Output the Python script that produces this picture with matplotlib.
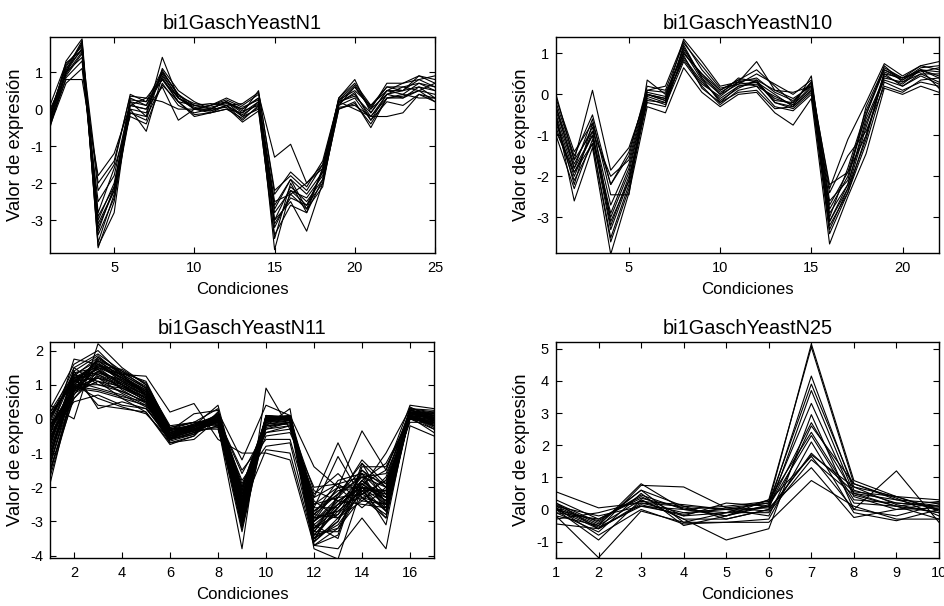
import matplotlib
matplotlib.use("Agg")
import matplotlib.pyplot as plt
import numpy as np

plt.rcParams['font.family'] = ['Liberation Sans', 'DejaVu Sans']
plt.rcParams['axes.unicode_minus'] = False

# ---------------- data ----------------
titles = ["bi1GaschYeastN1", "bi1GaschYeastN10", "bi1GaschYeastN11", "bi1GaschYeastN25"]
xlabel = "Condiciones"
ylabel = "Valor de expresión"

n1_profiles = [
    [-0.5, 1.0, 1.8, -3.7, -2.8, 0.3, 0.1, 1.0, 0.4, 0.1, 0.0, 0.2, 0.0, 0.3, -3.8, -2.2, -2.6, -1.7, 0.2, 0.4, -0.2, 0.4, 0.5, 0.6, 0.5],
    [-0.3, 1.3, 1.9, -3.2, -2.2, 0.2, -0.2, 1.4, 0.3, 0.0, -0.1, 0.1, -0.2, 0.2, -2.6, -1.9, -2.7, -1.6, 0.3, 0.8, -0.1, 0.5, 0.7, 0.9, 0.8],
    [-0.4, 0.8, 0.8, -1.8, -1.2, 0.1, 0.3, 0.2, 0.0, 0.0, 0.1, 0.3, 0.1, 0.4, -1.3, -0.95, -2.0, -1.6, 0.1, 0.6, 0.0, 0.7, 0.7, 0.8, 0.9],
    [-0.1, 1.1, 1.6, -2.9, -2.1, 0.0, -0.6, 0.9, 0.3, 0.05, -0.05, 0.1, -0.3, 0.1, -3.0, -2.5, -3.3, -2.0, 0.0, 0.2, -0.5, 0.3, 0.3, 0.5, 0.4],
    [0.0, 0.9, 1.5, -2.2, -1.5, 0.4, 0.2, 0.8, 0.2, -0.2, -0.1, 0.0, -0.1, 0.5, -2.3, -1.7, -2.1, -1.4, 0.25, 0.5, 0.1, 0.5, 0.4, 0.7, 0.6],
    [-0.2, 1.2, 1.7, -3.4, -2.4, -0.1, -0.3, 1.1, 0.5, 0.2, 0.0, 0.2, -0.2, 0.0, -3.5, -2.0, -2.8, -1.9, 0.1, 0.3, -0.3, 0.2, 0.1, 0.4, 0.3],
    [-0.3, 1.0, 1.4, -3.0, -2.0, 0.1, 0.0, 0.6, -0.3, 0.0, 0.1, 0.2, -0.1, 0.2, -2.8, -2.2, -2.4, -1.8, 0.2, 0.0, -0.2, -0.2, -0.1, 0.4, 0.2],
    [-0.45, 0.7, 1.1, -2.5, -1.8, 0.2, 0.1, 0.8, 0.3, 0.1, 0.05, 0.15, 0.0, 0.3, -2.5, -2.3, -2.0, -1.5, 0.2, 0.6, 0.0, 0.4, 0.6, 0.5, 0.7],
    [-0.2, 1.0, 1.65, -3.6, -2.3, 0.0, -0.1, 1.0, 0.4, 0.0, -0.05, 0.1, -0.15, 0.15, -3.2, -2.3, -2.7, -2.1, 0.15, 0.45, -0.3, 0.4, 0.3, 0.6, 0.3],
    [-0.1, 1.15, 1.75, -3.3, -2.1, 0.25, 0.2, 1.05, 0.35, 0.15, 0.1, 0.25, 0.05, 0.25, -2.7, -1.9, -2.3, -1.7, 0.3, 0.7, 0.1, 0.6, 0.6, 0.7, 0.5],
    [-0.35, 0.95, 1.55, -2.8, -1.6, -0.2, -0.4, 0.7, 0.1, -0.1, 0.0, 0.05, -0.35, -0.05, -3.4, -2.6, -2.8, -1.6, 0.05, 0.1, -0.2, 0.3, 0.4, 0.3, 0.3],
    [-0.25, 1.05, 1.85, -3.75, -2.5, 0.1, 0.0, 0.95, 0.3, 0.0, 0.0, 0.2, -0.05, 0.1, -3.0, -2.1, -2.5, -1.9, 0.2, 0.35, -0.1, 0.5, 0.5, 0.8, 0.6],
    [0.1, 1.25, 1.6, -2.0, -1.4, 0.35, 0.3, 0.85, 0.2, 0.1, 0.15, 0.1, 0.15, 0.45, -2.2, -1.8, -2.2, -1.5, 0.25, 0.65, 0.05, 0.6, 0.5, 0.9, 0.7],
    [-0.4, 0.85, 1.3, -3.1, -2.2, -0.1, -0.2, 0.65, 0.2, -0.15, -0.1, 0.0, -0.25, 0.05, -3.1, -2.4, -2.6, -2.0, 0.0, 0.15, -0.4, 0.3, 0.35, 0.5, 0.2],
]

n10_profiles = [
    [0.0, -1.6, 0.1, -1.85, -1.3, 0.0, -0.1, 1.35, 0.8, 0.2, 0.3, 0.8, 0.1, 0.05, 0.2, -2.2, -1.9, -1.0, 0.5, 0.4, 0.7, 0.8],
    [-0.5, -2.6, -1.3, -3.9, -2.4, -0.3, -0.45, 0.65, 0.05, -0.3, 0.0, 0.05, -0.45, -0.75, -0.1, -3.65, -2.5, -1.45, 0.15, 0.0, 0.2, 0.05],
    [-0.3, -1.8, -0.6, -2.45, -2.45, 0.35, 0.0, 1.0, 0.5, 0.0, 0.4, 0.3, -0.2, -0.3, 0.45, -2.8, -2.0, -0.5, 0.7, 0.3, 0.6, 0.4],
    [-0.6, -1.9, -1.0, -3.3, -2.1, -0.05, -0.2, 1.2, 0.4, -0.2, 0.2, 0.3, 0.0, -0.3, 0.1, -3.1, -2.3, -0.8, 0.5, 0.2, 0.5, 0.3],
    [-0.8, -2.1, -1.2, -3.5, -2.2, -0.1, -0.25, 0.8, 0.2, -0.25, 0.1, 0.2, -0.3, -0.4, 0.0, -3.2, -2.4, -1.2, 0.3, 0.1, 0.3, 0.2],
    [-0.2, -1.5, -0.5, -2.2, -1.4, 0.1, 0.2, 1.3, 0.6, 0.1, 0.35, 0.6, 0.2, -0.2, 0.3, -2.3, -1.1, -0.2, 0.75, 0.45, 0.7, 0.6],
    [-1.0, -2.3, -1.1, -3.0, -1.9, 0.0, -0.15, 0.9, 0.3, -0.1, 0.2, 0.25, -0.1, -0.25, 0.15, -2.9, -2.2, -0.6, 0.4, 0.3, 0.5, 0.5],
    [-0.4, -1.7, -0.8, -2.7, -1.7, 0.05, -0.05, 1.1, 0.45, 0.05, 0.3, 0.4, 0.05, -0.15, 0.25, -3.0, -1.8, -0.4, 0.6, 0.35, 0.65, 0.7],
    [-0.7, -2.0, -0.9, -3.2, -2.0, -0.2, -0.3, 1.05, 0.35, -0.15, 0.15, 0.35, -0.2, -0.35, 0.05, -3.4, -2.4, -1.0, 0.45, 0.25, 0.6, 0.15],
    [-0.1, -1.4, -0.7, -2.2, -1.5, 0.2, 0.1, 1.25, 0.7, 0.15, 0.25, 0.5, 0.25, 0.0, 0.35, -2.6, -2.1, -0.3, 0.65, 0.4, 0.55, 0.65],
    [-0.5, -1.8, -1.0, -2.9, -1.8, 0.0, -0.1, 0.85, 0.25, -0.05, 0.3, 0.2, -0.05, -0.25, 0.2, -3.1, -2.2, -0.7, 0.35, 0.2, 0.45, 0.25],
    [-0.9, -1.9, -1.2, -3.6, -2.3, -0.15, -0.2, 0.95, 0.15, -0.2, 0.05, 0.1, -0.35, -0.3, 0.1, -2.4, -1.5, -0.9, 0.2, 0.05, 0.35, 0.4],
    [-0.6, -2.2, -0.7, -3.1, -2.1, 0.0, -0.15, 1.15, 0.4, 0.0, 0.25, 0.3, -0.15, -0.2, 0.3, -3.3, -2.3, -1.1, 0.55, 0.35, 0.6, 0.55],
    [-0.3, -1.6, -0.9, -2.0, -1.6, 0.1, 0.05, 1.0, 0.5, 0.1, 0.35, 0.35, 0.1, -0.1, 0.2, -2.7, -1.9, -0.5, 0.6, 0.4, 0.6, 0.45],
]

n11_profiles = [
    [-1.9, 1.0, 1.5, 1.2, 0.7, -0.5, -0.3, 0.0, -2.5, 0.0, 0.0, -3.0, -2.5, -2.0, -2.5, 0.2, 0.0],
    [0.4, 0.0, 2.2, 1.5, 1.0, -0.3, -0.2, 0.1, -3.2, -0.2, -0.1, -3.8, -4.1, -2.0, -2.7, 0.1, -0.2],
    [-0.5, 1.75, 1.6, 1.1, 0.6, -0.6, -0.4, -0.2, -3.8, 0.9, -0.3, -2.3, -0.7, -2.2, -1.8, 0.3, 0.2],
    [0.0, 1.2, 0.4, 0.3, 0.2, -0.7, -0.5, 0.2, -2.0, 0.0, 0.1, -1.4, -2.0, -0.35, -1.5, 0.4, 0.3],
    [-0.3, 0.8, 1.8, 1.3, 1.25, 0.2, 0.45, -0.6, -1.0, -1.0, -1.2, -3.7, -3.8, -2.9, -3.8, -0.2, -0.5],
    [-1.2, 1.5, 1.9, 1.4, 0.9, -0.4, -0.3, 0.0, -2.8, 0.1, 0.05, -3.3, -3.3, -2.0, -2.2, 0.0, 0.0],
    [-0.8, 1.1, 1.2, 1.0, 0.5, -0.6, -0.2, 0.4, -2.3, -0.3, -0.2, -2.8, -2.2, -1.3, -2.5, 0.25, 0.1],
    [-0.2, 0.9, 0.8, 0.6, 0.4, -0.5, -0.3, -0.1, -1.8, -0.8, -0.7, -3.5, -2.6, -1.8, -1.3, 0.0, -0.3],
    [0.2, 1.3, 1.7, 1.2, 0.8, -0.3, -0.1, 0.3, -2.6, 0.05, 0.05, -2.6, -1.1, -2.3, -2.9, 0.35, 0.0],
    [-1.5, 0.6, 1.4, 1.0, 0.6, -0.45, -0.35, -0.05, -3.1, 0.0, 0.0, -3.6, -3.0, -1.5, -2.0, 0.1, -0.1],
    [-0.6, 1.0, 1.0, 0.8, 0.5, -0.7, -0.6, 0.0, -2.2, -0.5, -0.4, -2.0, -1.9, -1.7, -1.6, 0.0, 0.2],
    [-0.1, 1.4, 0.3, 0.5, 0.3, -0.6, -0.4, 0.1, -2.4, 0.1, 0.0, -3.2, -2.4, -2.5, -2.6, 0.2, -0.2],
    [-1.0, 0.8, 1.55, 1.45, 1.0, -0.2, -0.1, -0.2, -2.9, -0.1, 0.05, -2.9, -2.8, -1.6, -2.3, 0.05, 0.1],
    [0.3, 1.6, 2.0, 1.3, 0.7, -0.55, -0.25, 0.0, -1.5, -0.6, -0.6, -3.0, -2.0, -2.0, -1.0, 0.3, -0.1],
    [-0.4, 0.5, 0.7, 0.4, 0.3, -0.5, -0.3, -0.3, -2.7, -0.2, 0.3, -3.7, -3.2, -1.9, -2.4, 0.15, 0.05],
    [-0.7, 1.2, 1.3, 0.9, 0.65, -0.35, -0.2, 0.05, -2.1, 0.0, 0.0, -2.5, -2.3, -1.2, -1.9, 0.0, -0.05],
    [-1.7, 0.7, 1.6, 1.1, 0.8, -0.4, -0.15, -0.1, -3.0, 0.05, 0.1, -3.4, -2.7, -2.1, -2.1, 0.2, 0.15],
    [0.1, 1.1, 0.9, 0.7, 0.35, -0.65, -0.45, 0.15, -1.9, -0.4, -0.3, -2.2, -1.6, -2.3, -2.8, 0.1, -0.3],
    [-0.9, 0.9, 1.5, 1.3, 0.9, -0.25, -0.1, -0.15, -2.5, -0.15, -0.05, -3.1, -3.5, -1.4, -1.4, 0.0, 0.0],
    [-0.3, 1.3, 1.1, 0.6, 0.2, -0.75, -0.5, 0.2, -1.2, 0.4, 0.1, -2.7, -2.1, -2.0, -3.1, 0.3, 0.25],
    [-1.3, 1.0, 1.75, 1.35, 1.1, -0.3, -0.2, 0.0, -2.8, 0.0, 0.0, -3.3, -2.5, -1.7, -2.6, 0.1, -0.15],
    [0.0, 1.5, 1.0, 0.9, 0.55, -0.5, -0.3, 0.05, -2.2, -0.1, 0.1, -2.4, -2.9, -2.4, -1.7, 0.25, 0.1],
    [-0.5, 0.6, 1.3, 1.0, 0.7, -0.55, -0.35, -0.1, -2.6, -0.9, -1.0, -3.6, -2.2, -1.5, -2.2, 0.05, -0.4],
    [-1.1, 1.2, 1.6, 1.2, 0.75, -0.4, -0.25, 0.1, -3.2, 0.1, 0.05, -2.9, -2.0, -2.6, -2.0, 0.15, 0.05],
    [0.2, 1.0, 0.6, 0.35, 0.15, -0.6, -0.45, 0.0, -1.6, -0.3, -0.1, -2.1, -2.4, -1.9, -1.5, 0.2, 0.0],
    [-0.8, 1.4, 1.85, 1.25, 0.85, -0.45, -0.2, -0.05, -2.4, 0.05, 0.0, -3.5, -3.1, -2.1, -2.9, 0.1, -0.25],
    [-0.2, 0.8, 1.1, 0.95, 0.6, -0.35, 0.15, 0.25, -2.1, -0.05, 0.05, -2.6, -2.6, -1.8, -2.4, 0.3, 0.15],
    [-1.4, 1.1, 1.45, 0.85, 0.45, -0.6, -0.3, -0.15, -2.9, -0.2, -0.15, -3.0, -2.3, -2.2, -1.8, 0.0, -0.1],
    [-0.4, 0.95, 0.85, 0.65, 0.5, -0.45, -0.25, 0.1, -2.3, 0.0, 0.05, -2.8, -1.8, -1.6, -2.7, 0.15, 0.1],
    [-0.6, 1.25, 1.35, 1.05, 0.7, -0.5, -0.3, 0.0, -2.7, -0.05, 0.0, -3.2, -2.8, -2.0, -2.3, 0.1, 0.0],
    [-1.6, 0.9, 1.2, 0.75, 0.4, -0.55, -0.35, -0.25, -3.1, 0.05, 0.0, -3.7, -3.4, -1.3, -2.0, -0.1, -0.1],
    [0.1, 1.1, 1.65, 1.15, 0.65, -0.4, -0.15, 0.05, -2.0, -0.4, -0.2, -2.3, -1.9, -2.4, -2.5, 0.2, 0.05],
    [-0.9, 1.05, 1.7, 1.25, 0.8, -0.45, -0.3, -0.05, -2.5, 0.0, 0.05, -3.4, -2.6, -1.9, -2.4, 0.1, -0.05],
    [-0.3, 0.95, 1.4, 1.1, 0.75, -0.5, -0.25, 0.05, -2.2, -0.1, 0.0, -3.0, -2.4, -2.0, -2.1, 0.2, 0.1],
    [-1.2, 1.15, 1.55, 1.2, 0.85, -0.4, -0.2, -0.1, -2.9, 0.05, 0.0, -3.6, -2.9, -2.2, -2.6, 0.05, -0.2],
    [-0.6, 0.85, 1.25, 0.95, 0.6, -0.55, -0.35, 0.0, -2.4, -0.25, -0.1, -2.7, -2.2, -1.7, -2.0, 0.15, 0.0],
    [0.0, 1.25, 1.8, 1.35, 0.95, -0.35, -0.15, 0.1, -2.7, 0.05, 0.05, -3.1, -2.5, -2.3, -2.5, 0.25, 0.1],
    [-1.5, 0.75, 1.1, 0.8, 0.5, -0.6, -0.4, -0.2, -3.3, -0.1, -0.05, -3.5, -3.0, -1.8, -2.3, 0.0, -0.15],
    [-0.7, 1.0, 1.6, 1.3, 0.9, -0.3, -0.2, 0.05, -2.0, 0.0, 0.0, -2.9, -2.7, -2.1, -2.7, 0.1, 0.05],
    [-0.2, 1.35, 1.5, 1.0, 0.6, -0.45, -0.25, 0.15, -2.6, -0.05, 0.05, -3.3, -2.3, -1.6, -1.9, 0.2, 0.2],
    [-1.0, 0.9, 1.35, 1.15, 0.8, -0.5, -0.3, -0.05, -3.0, 0.0, -0.05, -2.8, -2.9, -2.0, -2.2, 0.05, -0.1],
    [-0.4, 1.1, 1.7, 1.4, 1.05, -0.25, -0.1, 0.0, -2.3, 0.05, 0.05, -3.2, -2.6, -1.8, -2.5, 0.15, 0.0],
    [-1.3, 0.8, 1.2, 0.9, 0.55, -0.55, -0.35, -0.1, -2.8, -0.15, -0.1, -3.4, -3.2, -2.3, -2.1, 0.05, -0.2],
    [0.1, 1.2, 1.45, 1.05, 0.7, -0.4, -0.2, 0.1, -2.1, -0.05, 0.05, -2.5, -2.0, -1.9, -2.4, 0.25, 0.15],
]

n25_profiles = [
    [0.55, 0.05, 0.2, 0.1, 0.0, 0.2, 5.15, 0.9, 0.4, 0.3],
    [0.1, -0.5, 0.8, 0.0, -0.2, 0.3, 5.05, 0.8, 0.3, 0.2],
    [-0.2, -1.5, -0.05, -0.4, -0.1, 0.1, 4.15, 0.6, 0.2, 0.1],
    [0.0, -0.6, 0.75, 0.7, 0.05, 0.2, 3.9, 0.7, 0.4, 0.0],
    [0.2, -0.4, 0.6, 0.1, -0.3, 0.0, 3.7, 0.5, 0.1, -0.1],
    [-0.1, -0.7, 0.5, -0.5, -0.2, 0.15, 3.3, 0.4, 0.0, 0.2],
    [0.0, -0.95, 0.3, -0.3, -0.95, -0.6, 2.95, 0.0, 1.2, -0.4],
    [0.3, -0.3, 0.4, -0.2, 0.2, 0.1, 2.7, 0.5, 0.3, 0.0],
    [-0.45, -0.6, 0.2, -0.1, 0.0, -0.2, 2.6, 0.8, 0.35, -0.2],
    [0.1, -0.2, 0.1, 0.0, -0.1, 0.3, 2.4, 0.3, 0.2, 0.1],
    [0.05, -0.8, 0.0, -0.45, -0.4, -0.3, 2.1, -0.1, -0.35, 0.0],
    [-0.2, -0.5, 0.3, -0.3, -0.3, 0.0, 1.7, 0.7, 0.15, -0.1],
    [0.0, -0.35, 0.45, 0.0, 0.1, 0.25, 1.65, 0.0, -0.2, 0.15],
    [0.2, -0.6, 0.15, -0.2, -0.1, -0.1, 1.55, 0.45, 0.1, -0.3],
    [-0.3, -0.1, 0.25, 0.15, 0.0, 0.05, 1.3, -0.25, 0.0, 0.05],
    [0.15, -0.45, 0.6, -0.4, -0.4, -0.4, 0.9, 0.1, -0.3, -0.3],
    [-0.1, -0.3, 0.35, 0.05, -0.2, 0.1, 2.3, 0.2, 0.1, 0.25],
    [0.05, -0.55, 0.1, -0.15, 0.05, -0.05, 1.75, 0.55, 0.4, -0.05],
]

n1_xticks = [5, 10, 15, 20, 25]
n1_yticks = [-3, -2, -1, 0, 1]
n10_xticks = [5, 10, 15, 20]
n10_yticks = [-3, -2, -1, 0, 1]
n11_xticks = [2, 4, 6, 8, 10, 12, 14, 16]
n11_yticks = [-4, -3, -2, -1, 0, 1, 2]
n25_xticks = [1, 2, 3, 4, 5, 6, 7, 8, 9, 10]
n25_yticks = [-1, 0, 1, 2, 3, 4, 5]

# ---------------- layout ----------------
W, H = 944, 606
fig = plt.figure(figsize=(W / 100, H / 100), dpi=100)

def px_axes(x0, y0, x1, y1):
    return fig.add_axes([x0 / W, 1 - y1 / H, (x1 - x0) / W, (y1 - y0) / H])

panels = [
    (px_axes(50, 37, 435, 253), n1_profiles, titles[0], n1_xticks, n1_yticks, (-3.89, 1.95)),
    (px_axes(556, 37, 939, 253), n10_profiles, titles[1], n10_xticks, n10_yticks, (-3.87, 1.40)),
    (px_axes(50, 342, 434, 558), n11_profiles, titles[2], n11_xticks, n11_yticks, (-4.07, 2.25)),
    (px_axes(556, 342, 939, 558), n25_profiles, titles[3], n25_xticks, n25_yticks, (-1.51, 5.21)),
]

for ax, profiles, title, xt, yt, ylim in panels:
    data = np.array(profiles, dtype=float)
    x = np.arange(1, data.shape[1] + 1)
    for row in data:
        ax.plot(x, row, color='black', lw=0.8)
    ax.set_xlim(1, data.shape[1])
    ax.set_ylim(*ylim)
    ax.set_xticks(xt)
    ax.set_yticks(yt)
    ax.tick_params(direction='in', top=True, right=True, length=4, width=0.8,
                   labelsize=10.5, colors='black')
    ax.tick_params(axis='x', pad=6)
    ax.tick_params(axis='y', pad=5)
    for s in ax.spines.values():
        s.set_linewidth(1.0)
    ax.set_title(title, fontsize=14.3, pad=6)
    ax.set_xlabel(xlabel, fontsize=12.1, labelpad=5)
    ax.set_ylabel(ylabel, fontsize=13.3, labelpad=4)

fig.savefig("out.png", dpi=100)
